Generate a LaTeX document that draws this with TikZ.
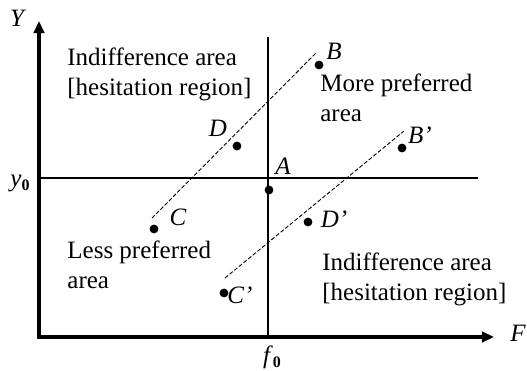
\documentclass[tikz,border=0pt]{standalone}
\usepackage{fontspec}
\setmainfont{Liberation Serif}
\usetikzlibrary{arrows.meta}
\tikzset{
  axis/.style={line width=1.9pt,line join=miter,{Triangle[length=6pt,width=5.2pt]}-{Triangle[length=6pt,width=5.2pt]}},
  guide/.style={line width=1.4pt},
  iso/.style={line width=0.45pt,dash pattern=on 2pt off 1pt},
  pt/.style={circle,fill,inner sep=0pt,minimum size=4.4pt},
  lab/.style={inner sep=0pt,execute at begin node=\itshape},
  area/.style={anchor=base west,align=left,inner sep=0pt}
}
\newcommand{\subz}{\raisebox{-0.35ex}{\footnotesize\bfseries 0}}
\begin{document}
\begin{tikzpicture}[x=0.5pt,y=-0.5pt,font=\fontsize{12.5}{15}\selectfont]
\useasboundingbox (0,0) rectangle (527,371);
% axes and the two reference lines through A
\coordinate (O) at (39,337);
\coordinate (Ytop) at (39,21);
\coordinate (Xend) at (494,337);
\coordinate (Vtop) at (268,37);
\coordinate (Vbot) at (268,337);
\coordinate (Hl) at (39,178);
\coordinate (Hr) at (478,178);
\draw[axis] (Ytop) -- (O) -- (Xend);
\draw[guide] (Vtop) -- (Vbot);
\draw[guide] (Hl) -- (Hr);
\node[lab] (ylab) at (17,18) {Y};
\node[lab] (xlab) at (518,333) {F};
\node[inner sep=0pt] (y0) at (20,183) {\textit{y}\subz};
\node[inner sep=0pt] (f0) at (272,357) {\textit{f}\subz};
% points
\foreach \n/\x/\y in {B/319/65,Bp/402/148,D/237/146,A/269/190,C/154/229,Dp/308/222,Cp/224/293}
  \node[pt] (\n) at (\x,\y) {};
\foreach \n/\x/\y/\t in {B/334/51/B,Bp/420/135/B’,D/218/128/D,A/283/166/A,C/178/217/C,Dp/334/219/D’,Cp/240/295/C’}
  \node[lab] (l\n) at (\x,\y) {\t};
% dashed indifference lines
\coordinate (c1) at (152,218);
\coordinate (b1) at (317,52);
\coordinate (c2) at (225,278);
\coordinate (b2) at (404,131);
\draw[iso] (c1) -- (b1);
\draw[iso] (c2) -- (b2);
% area texts
\node[area] (ind1) at (67,95) {Indifference area\\{}[hesitation region]};
\node[area] (more) at (320,121) {More preferred\\area};
\node[area] (less) at (67,288) {Less preferred\\area};
\node[area] (ind2) at (322,300) {Indifference area\\{}[hesitation region]};
\end{tikzpicture}
\end{document}
